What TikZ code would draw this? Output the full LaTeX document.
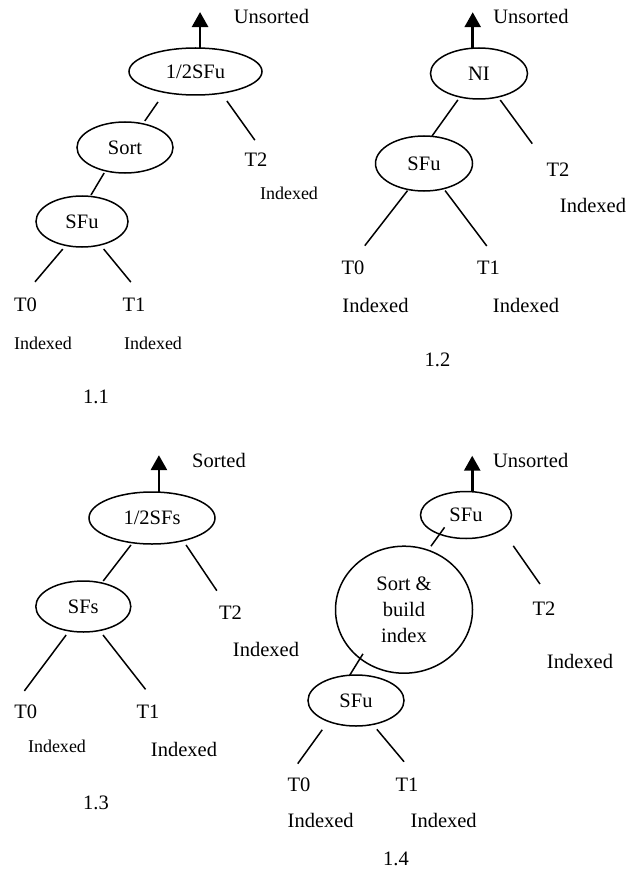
\documentclass[tikz,border=0pt]{standalone}
\usepackage{fontspec}
\setmainfont{Liberation Serif}
\usepackage{tikz}
\usetikzlibrary{shapes.geometric, arrows.meta}

\tikzset{
  lbl/.style={font=\fontsize{20.5}{24}\selectfont, inner sep=0pt},
  smalltxt/.style={font=\fontsize{18}{21}\selectfont, inner sep=0pt},
  oval/.style={draw, ellipse, line width=1.5pt, inner sep=0pt, outer sep=0pt,
    font=\fontsize{20.5}{26}\selectfont, align=center},
  branch/.style={line width=1.5pt},
  uparrow/.style={line width=2.8pt, -{Triangle[width=16pt,length=15pt]}}
}

\begin{document}
\begin{tikzpicture}[x=1pt, y=-1pt]
\useasboundingbox (0,0) rectangle (641,869);

% 1.1
\node[oval, minimum width=133pt, minimum height=47pt] (half1) at (195.5,71.5) {1/2SFu};
\node[oval, minimum width=96pt, minimum height=51pt] (sort1) at (125,147.5) {Sort};
\node[oval, minimum width=92pt, minimum height=51pt] (sfu1) at (82,221.5) {SFu};
\node[lbl] (tzero1) at (25.5,305) {T0};
\node[lbl] (tone1) at (134,305) {T1};
\node[lbl] (ttwo1) at (256,160) {T2};
\node[smalltxt] (ixzero1) at (43,343) {Indexed};
\node[smalltxt] (ixone1) at (153,343) {Indexed};
\node[smalltxt] (ixtwo1) at (289,193) {Indexed};
\node[lbl] (out1) at (271.5,16) {Unsorted};
\node[lbl] (cap1) at (96,397) {1.1};

\draw[uparrow] (half1.79) -- ++(0,-36);
\draw[branch, shorten <=11.7pt, shorten >=3.5pt] (half1.214) -- (sort1.53);
\draw[branch, shorten <=9.6pt, shorten >=15.8pt] (half1.320) -- (ttwo1.41);
\draw[branch, shorten <=2.6pt, shorten >=1.7pt] (sort1.230) -- (sfu1.72);
\draw[branch, shorten <=4.8pt, shorten >=21pt] (sfu1.236) -- (tzero1.120);
\draw[branch, shorten <=5.3pt, shorten >=20.7pt] (sfu1.308) -- (tone1.35);

% 1.2
\node[oval, minimum width=97pt, minimum height=51pt] (ni2) at (479,73.5) {NI};
\node[oval, minimum width=97pt, minimum height=55pt] (sfu2) at (424,163.5) {SFu};
\node[lbl] (tzero2) at (353,268) {T0};
\node[lbl] (tone2) at (488.5,268) {T1};
\node[lbl] (ttwo2) at (558,170) {T2};
\node[lbl] (ixzero2) at (375.5,305) {Indexed};
\node[lbl] (ixone2) at (526,305) {Indexed};
\node[lbl] (ixtwo2) at (593,205) {Indexed};
\node[lbl] (out2) at (531,16) {Unsorted};
\node[lbl] (cap2) at (437.5,360) {1.2};

\draw[uparrow] (ni2.104) -- ++(0,-36);
\draw[branch, shorten <=3.6pt, shorten >=0.4pt] (ni2.231) -- (sfu2.74);
\draw[branch, shorten <=3.8pt, shorten >=24pt] (ni2.309) -- (ttwo2.north west);
\draw[branch, shorten <=1.4pt, shorten >=19.3pt] (sfu2.239) -- (tzero2.north);
\draw[branch, shorten <=2.4pt, shorten >=18.8pt] (sfu2.308) -- (tone2.36);

% 1.3
\node[oval, minimum width=126pt, minimum height=52pt] (half3) at (152,518) {1/2SFs};
\node[oval, minimum width=95pt, minimum height=51pt] (sfs3) at (83.3,606.5) {SFs};
\node[lbl] (tzero3) at (25.7,711.7) {T0};
\node[lbl] (tone3) at (148,711.7) {T1};
\node[lbl] (ttwo3) at (230.5,612.7) {T2};
\node[smalltxt] (ixzero3) at (57,746.7) {Indexed};
\node[lbl] (ixone3) at (184,749.3) {Indexed};
\node[lbl] (ixtwo3) at (266,649.3) {Indexed};
\node[lbl] (out3) at (219,460) {Sorted};
\node[lbl] (cap3) at (96,803.3) {1.3};

\draw[uparrow] (half3.75) -- ++(0,-37);
\draw[branch, shorten <=2.8pt, shorten >=2.5pt] (half3.232) -- (sfs3.52);
\draw[branch, shorten <=5.2pt, shorten >=18.1pt] (half3.324) -- (ttwo3.117);
\draw[branch, shorten <=5.2pt, shorten >=17.1pt] (sfs3.240) -- (tzero3.north west);
\draw[branch, shorten <=5.8pt, shorten >=19.5pt] (sfs3.304) -- (tone3.36);

% 1.4
\node[oval, minimum width=91pt, minimum height=47pt] (sfutop4) at (466,515) {SFu};
\node[oval, minimum width=137pt, minimum height=127pt] (build4) at (404,609.7) {Sort \&\\build\\index};
\node[oval, minimum width=96pt, minimum height=51pt] (sfubot4) at (356,700.5) {SFu};
\node[lbl] (tzero4) at (299,785) {T0};
\node[lbl] (tone4) at (407,785) {T1};
\node[lbl] (ttwo4) at (544,608.3) {T2};
\node[lbl] (ixzero4) at (320.7,820) {Indexed};
\node[lbl] (ixone4) at (443.7,820) {Indexed};
\node[lbl] (ixtwo4) at (580,661.7) {Indexed};
\node[lbl] (out4) at (530.7,460) {Unsorted};
\node[lbl] (cap4) at (396,858.5) {1.4};

\draw[uparrow] (sfutop4.75) -- ++(0,-36);
\draw[branch, shorten <=5pt, shorten >=-8.4pt] (build4.68) -- (sfutop4.216);
\draw[branch, shorten <=-5.4pt] (build4.228) -- (sfubot4.104);
\draw[branch, shorten <=20pt, shorten >=21.1pt] (sfutop4.338) -- (ttwo4.41);
\draw[branch, shorten <=10.4pt, shorten >=17.6pt] (sfubot4.217) -- (tzero4.north west);
\draw[branch, shorten <=6.4pt, shorten >=21.3pt] (sfubot4.305) -- (tone4.33);

\end{tikzpicture}
\end{document}
